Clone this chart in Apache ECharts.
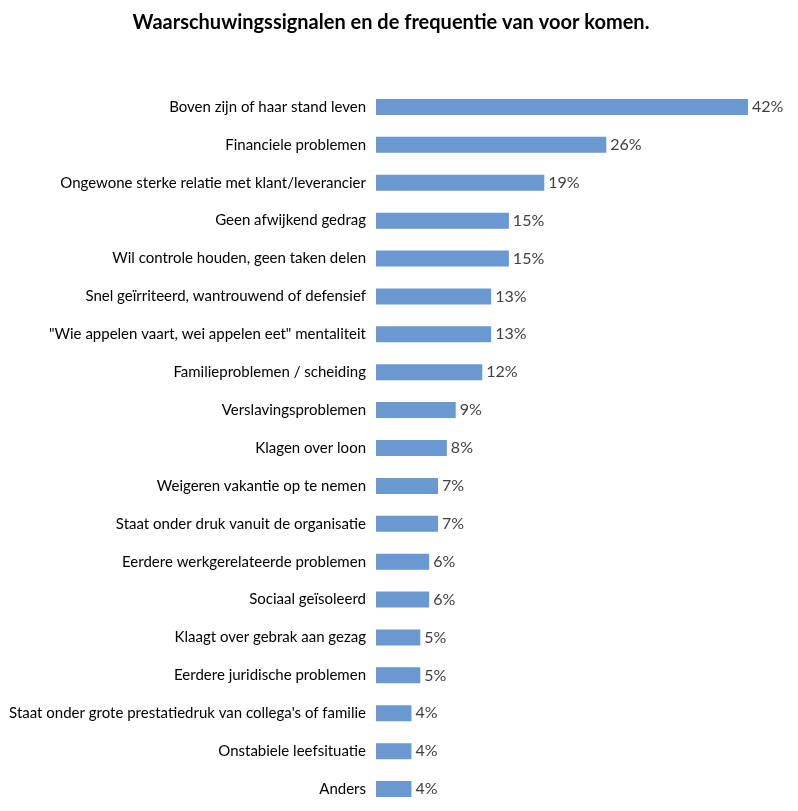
<!DOCTYPE html>
<html>
<head>
<meta charset="utf-8">
<title>Waarschuwingssignalen</title>
<script src="https://cdn.jsdelivr.net/npm/echarts@6/dist/echarts.min.js"></script>
<style>
  html, body { margin: 0; padding: 0; background: #fff; }
  #chart { width: 798px; height: 811px; }
</style>
</head>
<body>
<div id="chart"></div>
<script>
// categorieen, van boven naar beneden
var categories = [
    'Boven zijn of haar stand leven',
    'Financiele problemen',
    'Ongewone sterke relatie met klant/leverancier',
    'Geen afwijkend gedrag',
    'Wil controle houden, geen taken delen',
    'Snel geïrriteerd, wantrouwend of defensief',
    '"Wie appelen vaart, wei appelen eet" mentaliteit',
    'Familieproblemen / scheiding',
    'Verslavingsproblemen',
    'Klagen over loon',
    'Weigeren vakantie op te nemen',
    'Staat onder druk vanuit de organisatie',
    'Eerdere werkgerelateerde problemen',
    'Sociaal geïsoleerd',
    'Klaagt over gebrak aan gezag',
    'Eerdere juridische problemen',
    "Staat onder grote prestatiedruk van collega's of familie",
    'Onstabiele leefsituatie',
    'Anders'
]

// percentages
var percentages = [42, 26, 19, 15, 15, 13, 13, 12, 9, 8, 7, 7, 6, 6, 5, 5, 4, 4, 4]

var chart = echarts.init(document.getElementById('chart'))

var option = {
    animation: false,
    title: {
        text: 'Waarschuwingssignalen en de frequentie van voor komen.',
        left: 386,
        top: 8,
        textAlign: 'center',
        textStyle: {
            fontFamily: 'Lato',
            fontSize: 20,
            fontWeight: 'bold',
            color: '#000'
        }
    },
    grid: {
        left: 376,
        right: 50,
        top: 88,
        bottom: 3,
        containLabel: false
    },
    xAxis: {
        type: 'value',
        min: 0,
        max: 42,
        show: false
    },
    yAxis: {
        type: 'category',
        inverse: true,
        data: categories,
        axisLine: { show: false },
        axisTick: { show: false },
        axisLabel: {
            margin: 10,
            fontFamily: 'Lato',
            fontSize: 15,
            color: '#000'
        }
    },
    series: [{
        type: 'bar',
        data: percentages,
        barWidth: 16,
        itemStyle: { color: '#6a98d0' },
        label: {
            show: true,
            position: 'right',
            distance: 4,
            formatter: '{c}%',
            fontFamily: 'Lato',
            fontSize: 16,
            color: '#404040'
        }
    }]
}

chart.setOption(option)
</script>
</body>
</html>
